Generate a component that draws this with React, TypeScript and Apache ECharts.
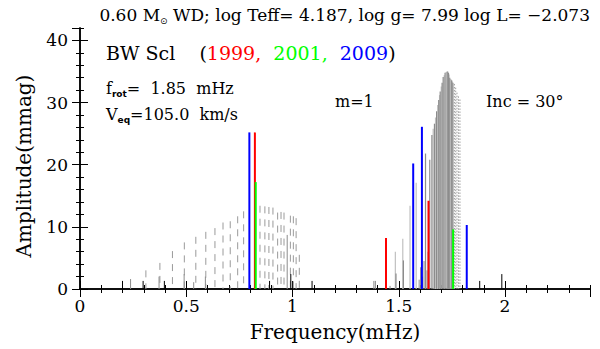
import React, { useEffect, useRef } from 'react';
import * as echarts from 'echarts';

const SERIF = '"DejaVu Serif", serif';
const SANS = '"DejaVu Sans", sans-serif';

// ---- axis ranges / ticks ----
const xMax = 2.4;
const yMax = 42;
const xMajor = 0.5;
const xMinor = 0.1;
const yMajor = 10;
const yMinor = 2;

// ---- observed frequencies [freq (mHz), amplitude (mmag)] ----
const obs1999: number[][] = [
  [0.823, 25.2], [1.440, 8.2], [1.640, 14.2],
];
const obs2001: number[][] = [
  [0.827, 17.2], [1.756, 9.6],
];
const obs2009: number[][] = [
  [0.797, 25.2], [1.568, 20.2], [1.609, 26.1], [1.820, 10.3],
];

// ---- model modes (gray) ----
const modesDashed: number[][] = [
  [0.310, 3.0], [0.376, 4.2], [0.435, 6.1], [0.491, 7.5], [0.545, 8.4],
  [0.592, 9.2], [0.635, 9.8], [0.673, 10.7], [0.707, 10.9], [0.742, 11.7],
  [0.770, 12.5], [0.847, 13.4], [0.870, 13.3], [0.889, 13.2], [0.908, 13.1],
  [0.930, 12.3], [0.946, 12.4], [0.960, 12.3], [0.990, 11.8], [1.004, 11.7],
  [1.017, 11.4], [1.032, 5.5],
];
const modesSmallGray: number[][] = [
  [0.238, 1.6], [0.372, 2.0], [0.490, 2.4], [0.535, 1.1], [0.590, 2.0],
  [0.975, 8.7], [1.383, 1.3], [1.390, 1.3], [1.459, 0.5], [1.596, 1.5],
  [1.603, 3.5], [1.612, 2.0], [1.619, 4.5], [1.633, 3.0], [1.638, 6.0],
];
const modesSmallBlack: number[][] = [
  [0.200, 1.3], [0.297, 1.3], [0.397, 1.3], [0.892, 1.3], [0.992, 2.4],
  [1.092, 1.3], [1.881, 1.3], [1.985, 2.4],
];
const modesLight: number[][] = [
  [1.484, 6.0], [1.519, 8.1], [1.553, 13.4], [1.582, 17.1], [1.662, 25.8],
  [1.673, 27.6], [1.683, 29.6], [1.692, 31.2], [1.700, 32.6], [1.714, 34.4],
  [1.723, 34.9], [1.731, 35.0], [1.737, 34.5], [1.745, 33.8], [1.752, 33.4],
];
const modesDark: number[][] = [
  [1.487, 2.5], [1.522, 4.6], [1.626, 21.8], [1.646, 20.8], [1.656, 24.8],
  [1.668, 26.6], [1.678, 28.6], [1.688, 30.4], [1.695, 31.8], [1.704, 33.2],
  [1.709, 34.1], [1.718, 34.8], [1.728, 35.0], [1.734, 34.8], [1.740, 34.0],
  [1.749, 33.6], [1.755, 33.2],
];
const modesDotted: number[][] = [
  [1.762, 33.0], [1.768, 32.4], [1.774, 31.6], [1.781, 31.0], [1.788, 30.5],
];

function stem(name: string, data: number[][], color: string, width: number, dash: number[] | null, z: number) {
  return {
    type: 'custom',
    name,
    data,
    z,
    silent: true,
    clip: false,
    xAxisIndex: 0,
    yAxisIndex: 0,
    encode: { x: 0, y: 1 },
    renderItem: (_p: any, api: any) => {
      const f = api.value(0);
      const a = api.value(1);
      const b = api.coord([f, 0]);
      const t = api.coord([f, a]);
      return {
        type: 'line',
        shape: { x1: t[0], y1: t[1], x2: b[0], y2: b[1] },
        style: { stroke: color, lineWidth: width, lineDash: dash || undefined },
      };
    },
  };
}

function xAx(pos: 'bottom' | 'top', interval: number, len: number, major: boolean, labels: boolean) {
  return {
    type: 'value',
    position: pos,
    min: 0,
    max: xMax,
    interval,
    axisLine: { show: major, lineStyle: { color: '#000', width: 1.5 } },
    axisTick: { show: true, inside: true, length: len, lineStyle: { color: '#000', width: 1 } },
    axisLabel: {
      show: labels,
      showMaxLabel: false,
      color: '#000',
      fontSize: 17,
      fontFamily: SERIF,
      margin: 8,
    },
    splitLine: { show: false },
    ...(labels
      ? {
          name: 'Frequency(mHz)',
          nameLocation: 'middle',
          nameGap: 33,
          nameTextStyle: { color: '#000', fontSize: 20, fontFamily: SERIF },
        }
      : {}),
  };
}

function yAx(pos: 'left' | 'right', interval: number, len: number, major: boolean, labels: boolean) {
  return {
    type: 'value',
    position: pos,
    min: 0,
    max: yMax,
    interval,
    axisLine: { show: major, lineStyle: { color: '#000', width: 1.5 } },
    axisTick: { show: true, inside: true, length: len, lineStyle: { color: '#000', width: 1 } },
    axisLabel: {
      show: labels,
      showMaxLabel: false,
      color: '#000',
      fontSize: 17,
      fontFamily: SERIF,
      margin: 12,
    },
    splitLine: { show: false },
  };
}

export default function App() {
  const ref = useRef<HTMLDivElement>(null);
  useEffect(() => {
    const chart = echarts.init(ref.current!, null, { renderer: 'svg' });
    const option: any = {
      animation: false,
      backgroundColor: '#fff',
      grid: { left: 80, right: 10, top: 28, bottom: 60 },
      xAxis: [
        xAx('bottom', xMajor, 8, true, true),
        xAx('bottom', xMinor, 4, false, false),
        xAx('top', xMajor, 8, true, false),
        xAx('top', xMinor, 4, false, false),
      ],
      yAxis: [
        yAx('left', yMajor, 8, true, true),
        yAx('left', yMinor, 4, false, false),
        yAx('right', yMajor, 8, true, false),
        yAx('right', yMinor, 4, false, false),
      ],
      series: [
        stem('dashed', modesDashed, '#9a9a9a', 1, [7, 6], 2),
        stem('smallGray', modesSmallGray, '#8c8c8c', 1, null, 2),
        stem('smallBlack', modesSmallBlack, '#000', 1, null, 2),
        stem('light', modesLight, '#c0c0c0', 1.2, null, 2),
        stem('dark', modesDark, '#8c8c8c', 1.2, null, 3),
        stem('dotted', modesDotted, '#a0a0a0', 1, [1.5, 1.5], 3),
        stem('1999', obs1999, '#ff0000', 2, null, 5),
        stem('2001', obs2001, '#00ff00', 2, null, 6),
        stem('2009', obs2009, '#0000ff', 2, null, 7),
      ],
      graphic: [
        {
          type: 'text',
          x: 590,
          y: 15,
          style: {
            text: '{a|0.60 M}{s|⊙}{a| WD; log Teff= 4.187, log g= 7.99 log L= \u22122.073}',
            textAlign: 'right',
            textVerticalAlign: 'middle',
            rich: {
              a: { fontSize: 17, fontFamily: SERIF, fill: '#000', lineHeight: 20 },
              s: { fontSize: 9, fontFamily: SANS, fill: '#000', lineHeight: 7, verticalAlign: 'bottom' },
            },
          },
        },
        {
          type: 'text',
          x: 24,
          y: 166,
          rotation: Math.PI / 2,
          style: {
            text: 'Amplitude(mmag)',
            font: `20px ${SERIF}`,
            fill: '#000',
            textAlign: 'center',
            textVerticalAlign: 'middle',
          },
        },
        {
          type: 'text',
          x: 106,
          y: 53,
          style: {
            text: '{k|BW Scl    (}{r|1999,}{g|  2001,}{b|  2009}{k|)}',
            textVerticalAlign: 'middle',
            rich: {
              k: { fontSize: 19, fontFamily: SERIF, fill: '#000' },
              r: { fontSize: 19, fontFamily: SERIF, fill: '#ff0000' },
              g: { fontSize: 19, fontFamily: SERIF, fill: '#00ff00' },
              b: { fontSize: 19, fontFamily: SERIF, fill: '#0000ff' },
            },
          },
        },
        {
          type: 'text',
          x: 106,
          y: 88,
          style: {
            text: '{m|f}{s|rot}{m|=  1.85  mHz}',
            textVerticalAlign: 'middle',
            rich: {
              m: { fontSize: 16, fontFamily: SERIF, fill: '#000', lineHeight: 20 },
              s: { fontSize: 9, fontFamily: SANS, fontWeight: 'bold', fill: '#000', lineHeight: 8, verticalAlign: 'bottom' },
            },
          },
        },
        {
          type: 'text',
          x: 106,
          y: 114,
          style: {
            text: '{m|V}{s|eq}{m|=105.0  km/s}',
            textVerticalAlign: 'middle',
            rich: {
              m: { fontSize: 16, fontFamily: SERIF, fill: '#000', lineHeight: 20 },
              s: { fontSize: 9, fontFamily: SANS, fontWeight: 'bold', fill: '#000', lineHeight: 8, verticalAlign: 'bottom' },
            },
          },
        },
        {
          type: 'text',
          x: 335,
          y: 101,
          style: { text: 'm=1', font: `16px ${SERIF}`, fill: '#000', textVerticalAlign: 'middle' },
        },
        {
          type: 'text',
          x: 486,
          y: 101,
          style: { text: 'Inc = 30°', font: `16px ${SERIF}`, fill: '#000', textVerticalAlign: 'middle' },
        },
      ],
    };
    chart.setOption(option);
    return () => chart.dispose();
  }, []);
  return <div ref={ref} style={{ position: 'fixed', left: 0, top: 0, width: 600, height: 349 }} />;
}
